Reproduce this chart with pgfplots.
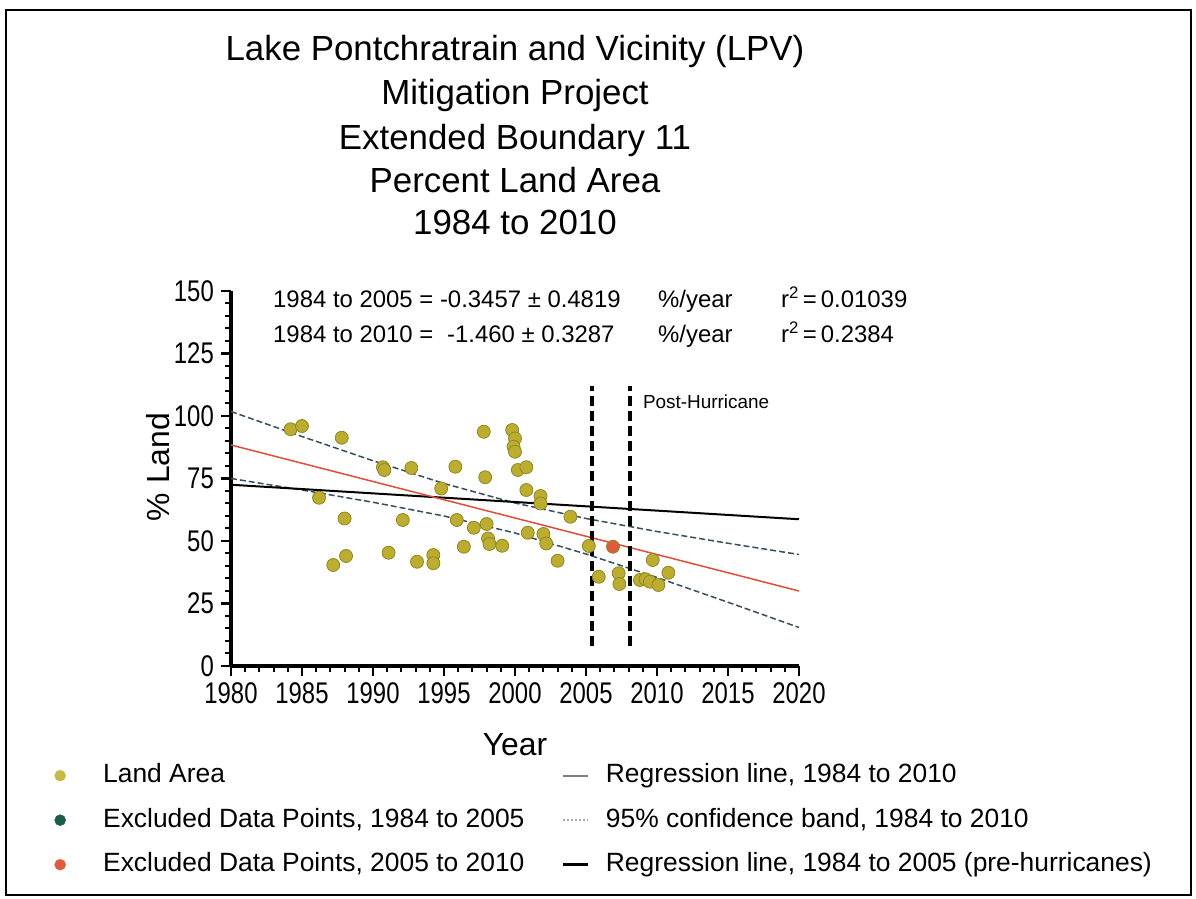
\documentclass[border=0pt]{standalone}
\usepackage{fontspec}
\setmainfont{Liberation Sans}
\newfontfamily\narrowfont[FakeStretch=0.8]{Liberation Sans}
\usepackage{pgfplots}
\pgfplotsset{compat=1.18}
\definecolor{landfill}{RGB}{188,172,48}
\definecolor{landedge}{RGB}{140,138,35}
\definecolor{legland}{RGB}{200,186,70}
\definecolor{redline}{RGB}{222,78,58}
\definecolor{redpt}{RGB}{222,92,62}
\definecolor{bandcol}{RGB}{55,78,95}
\definecolor{darkgreen}{RGB}{28,92,70}
\definecolor{leggray}{RGB}{125,125,125}
\definecolor{legdot}{RGB}{165,170,175}
\pgfplotsset{
  legmark/.style={legend image code/.code={\path[draw=none,fill=none] (0bp,-1bp) rectangle (55bp,1bp); \draw[##1] plot coordinates {(12bp,0bp)};}},
  legline/.style={legend image code/.code={\path[draw=none,fill=none] (0bp,-1bp) rectangle (43bp,1bp); \draw[##1] (0bp,0bp) -- (25bp,0bp);}},
}
\begin{document}
\begin{tikzpicture}
\path[use as bounding box] (0bp,0bp) rectangle (1196bp,899bp);
\draw[line width=2bp] (6bp,4bp) rectangle (1191bp,889bp);
% titles
\begin{scope}[every node/.style={anchor=base, font=\fontsize{35}{40}\selectfont, inner sep=0pt}]
\node at (515bp,838.5bp) {Lake Pontchratrain and Vicinity (LPV)};
\node at (515bp,794.5bp) {Mitigation Project};
\node at (515bp,749.5bp) {Extended Boundary 11};
\node at (515bp,706.5bp) {Percent Land Area};
\node at (515bp,664.5bp) {1984 to 2010};
\end{scope}
% regression annotations
\begin{scope}[every node/.style={anchor=base west, font=\fontsize{24}{28}\selectfont, inner sep=0pt}]
\node at (273bp,591bp) {1984 to 2005 = -0.3457 ± 0.4819};
\node at (658bp,591bp) {\%/year};
\node at (781bp,591bp) {r\textsuperscript{2}\,=\,0.01039};
\node at (273bp,556bp) {1984 to 2010 =};
\node at (447bp,556bp) {-1.460 ± 0.3287};
\node at (658bp,556bp) {\%/year};
\node at (781bp,556bp) {r\textsuperscript{2}\,=\,0.2384};
\end{scope}
\begin{axis}[
  at={(231bp,233bp)}, anchor=south west,
  scale only axis, width=568bp, height=375bp,
  xmin=1980, xmax=2020, ymin=0, ymax=150,
  axis lines=left, axis line style={-, line width=3bp},
  xtick={1980,1985,...,2020}, ytick={0,25,...,150},
  minor x tick num=4, minor y tick num=4,
  tick align=outside,
  major tick length=10bp, minor tick length=6bp,
  every major tick/.style={line width=2.5bp, black},
  every minor tick/.style={line width=2bp, black},
  /pgf/number format/assume math mode=true,
  /pgf/number format/1000 sep={},
  ticklabel style={font=\narrowfont\fontsize{30}{32}\selectfont, inner sep=1bp},
  xticklabel style={yshift=-5bp},
  yticklabel style={xshift=-6bp},
  xlabel={Year}, ylabel={\% Land},
  xlabel style={at={(axis description cs:0.5,-0.2107)}, anchor=center, font=\fontsize{32}{36}\selectfont},
  ylabel style={at={(axis description cs:-0.1285,0.5307)}, anchor=center, font=\fontsize{32}{36}\selectfont},
  clip=false,
  legend columns=2,
  legend cell align=left,
  legend style={at={(axis description cs:-0.3222,-0.2573)}, anchor=north west,
    draw=none, fill=none, inner sep=0pt, row sep=18.5bp,
    font=\fontsize{26.5}{30}\selectfont,
    nodes={text height=20bp, text depth=6bp, inner sep=0pt},
    /tikz/every even column/.style={column sep=37bp}},
]
% confidence band
\addplot[bandcol, line width=1.5bp, dash pattern=on 6bp off 3bp, forget plot] coordinates {(1980,101.8)(1985,91.8)(1990,82.1)(1995,73.0)(2000,65.2)(2005,59.0)(2010,53.8)(2015,49.1)(2020,44.6)};
\addplot[bandcol, line width=1.5bp, dash pattern=on 6bp off 3bp, forget plot] coordinates {(1980,75.0)(1985,70.4)(1990,65.5)(1995,60.0)(2000,53.2)(2005,44.8)(2010,35.4)(2015,25.5)(2020,15.4)};
% regression lines
\addplot[black, line width=2bp, forget plot] coordinates {(1980,72.5)(2020,58.7)};
\addplot[redline, line width=1.5bp, forget plot] coordinates {(1980,88.4)(2020,30.0)};
% land area points
\addplot[only marks, mark=*, mark size=6.5bp, mark options={fill=landfill, draw=landedge, line width=0.8bp}, forget plot] coordinates {
(1984.2,94.7)(1985.0,96.0)(1986.2,67.3)(1987.2,40.4)(1987.8,91.3)(1988.0,59.0)(1988.1,44.0)
(1990.7,79.5)(1990.8,78.4)(1991.1,45.3)(1992.1,58.4)(1992.7,79.2)(1993.1,41.7)
(1994.25,44.4)(1994.25,41.1)(1994.8,71.0)(1995.8,79.7)(1995.9,58.4)(1996.4,47.7)
(1997.1,55.3)(1997.8,93.7)(1997.9,75.5)(1998.0,56.8)(1998.1,51.0)(1998.2,48.8)(1999.1,48.1)
(1999.8,94.4)(2000.0,91.0)(1999.9,87.7)(2000.0,85.7)(2000.2,78.4)(2000.8,79.5)(2000.8,70.4)
(2000.9,53.3)(2001.8,68.0)(2001.8,65.0)(2002.0,52.8)(2002.2,49.0)(2003.0,42.1)(2003.9,59.7)
(2005.2,48.0)(2005.9,35.7)(2007.3,37.1)(2007.35,32.8)(2008.8,34.4)(2009.2,34.7)(2009.5,33.7)
(2009.7,42.4)(2010.1,32.4)(2010.8,37.3)};
\addplot[only marks, mark=*, mark size=6.5bp, mark options={fill=redpt, draw=landedge, line width=0.8bp}, forget plot] coordinates {(2006.9,47.7)};
% hurricane lines
\addplot[black, line width=3.5bp, dash pattern=on 10bp off 5bp, forget plot] coordinates {(2005.42,8)(2005.42,112)};
\addplot[black, line width=3.5bp, dash pattern=on 10bp off 5bp, forget plot] coordinates {(2008.1,8)(2008.1,112)};
\node[anchor=west, inner sep=0pt, font=\fontsize{19}{22}\selectfont] at (axis cs:2009.0,105.6) {Post-Hurricane};
% legend
\addlegendimage{legmark, only marks, mark=*, mark size=5.5bp, mark options={fill=legland, draw=legland}}
\addlegendentry{Land Area}
\addlegendimage{legline, leggray, line width=1.8bp}
\addlegendentry{Regression line, 1984 to 2010}
\addlegendimage{legmark, only marks, mark=*, mark size=5.5bp, mark options={fill=darkgreen, draw=darkgreen}}
\addlegendentry{Excluded Data Points, 1984 to 2005}
\addlegendimage{legline, legdot, line width=1.5bp, dash pattern=on 2bp off 2bp}
\addlegendentry{95\% confidence band, 1984 to 2010}
\addlegendimage{legmark, only marks, mark=*, mark size=5.5bp, mark options={fill=redpt, draw=redpt}}
\addlegendentry{Excluded Data Points, 2005 to 2010}
\addlegendimage{legline, black, line width=3bp}
\addlegendentry{Regression line, 1984 to 2005 (pre-hurricanes)}
\end{axis}
\end{tikzpicture}
\end{document}
